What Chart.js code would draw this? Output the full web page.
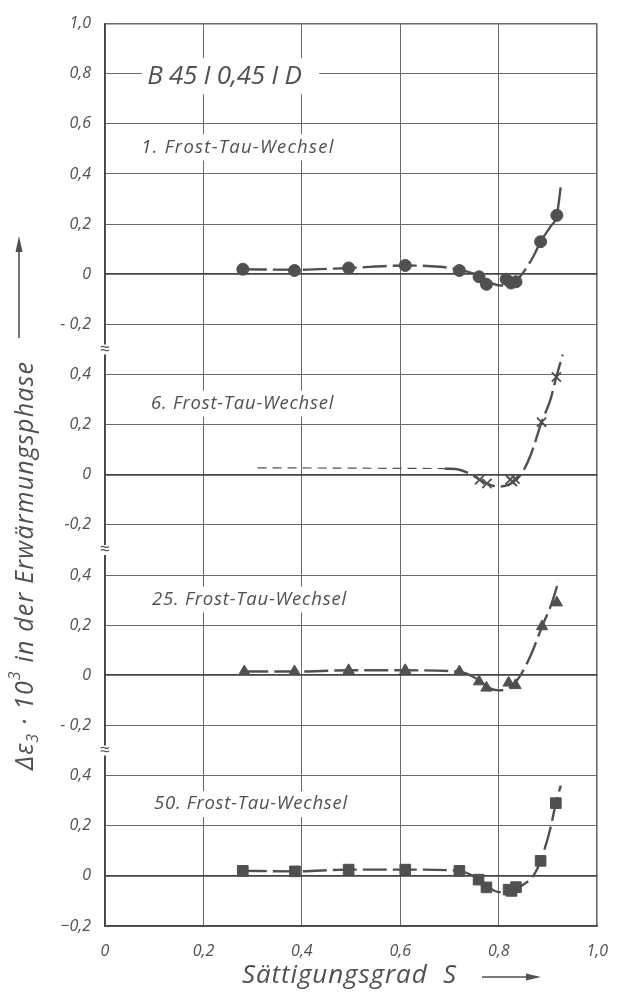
<!DOCTYPE html>
<html>
<head>
<meta charset="utf-8">
<title>B 45 I 0,45 I D</title>
<script src="https://cdn.jsdelivr.net/npm/chart.js@4.4.1/dist/chart.umd.min.js"></script>
<style>
  html, body { margin: 0; padding: 0; background: #fff; }
  #wrap { width: 624px; height: 992px; }
</style>
</head>
<body>
<div id="wrap"><canvas id="chart" width="624" height="992"></canvas></div>
<script>
// tick labels of the stacked y axis (bottom to top, one per grid step of 0.2)
const xTickLabels = ['0', '0,2', '0,4', '0,6', '0,8', '1,0'];
const yTickLabels = ['−0,2', '0', '0,2', '0,4', '- 0,2', '0', '0,2', '0,4', '-0,2', '0', '0,2', '0,4',
  '- 0,2', '0', '0,2', '0,4', '0,6', '0,8', '1,0'];
const panelNames = ['1. Frost-Tau-Wechsel', '6. Frost-Tau-Wechsel', '25. Frost-Tau-Wechsel', '50. Frost-Tau-Wechsel'];
const panelZero = [13, 9, 5, 1];

// measured points: Saettigungsgrad S and delta eps3 * 10^3
const cycle1S = [0.28, 0.385, 0.495, 0.61, 0.72, 0.76, 0.775, 0.815, 0.825, 0.835, 0.885, 0.918];
const cycle1D = [0.02, 0.015, 0.025, 0.035, 0.015, -0.01, -0.04, -0.02, -0.035, -0.03, 0.13, 0.235];
const cycle6S = [0.761, 0.776, 0.823, 0.828, 0.833, 0.887, 0.917];
const cycle6D = [-0.02, -0.035, -0.02, -0.027, -0.017, 0.21, 0.39];
const cycle25S = [0.283, 0.385, 0.495, 0.61, 0.72, 0.76, 0.775, 0.82, 0.834, 0.888, 0.918];
const cycle25D = [0.015, 0.015, 0.02, 0.02, 0.015, -0.025, -0.05, -0.03, -0.04, 0.195, 0.29];
const cycle50S = [0.28, 0.386, 0.495, 0.61, 0.72, 0.759, 0.775, 0.82, 0.826, 0.835, 0.885, 0.916];
const cycle50D = [0.02, 0.018, 0.025, 0.025, 0.02, -0.015, -0.046, -0.055, -0.06, -0.045, 0.06, 0.29];

// hand drawn fit curves
const curve1S = [0.28, 0.385, 0.495, 0.61, 0.68, 0.72, 0.76, 0.785, 0.805, 0.83, 0.847, 0.87, 0.885, 0.905, 0.918, 0.926];
const curve1D = [0.02, 0.018, 0.025, 0.035, 0.03, 0.018, -0.005, -0.035, -0.045, -0.035, 0, 0.07, 0.13, 0.19, 0.235, 0.35];
const curve6aS = [0.31, 0.69];
const curve6aD = [0.028, 0.025];
const curve6S = [0.69, 0.72, 0.745, 0.77, 0.80, 0.825, 0.845, 0.865, 0.887, 0.905, 0.917, 0.93];
const curve6D = [0.025, 0.02, 0.0, -0.03, -0.047, -0.035, 0.0, 0.08, 0.21, 0.3, 0.39, 0.48];
const curve25S = [0.283, 0.385, 0.495, 0.61, 0.72, 0.76, 0.78, 0.80, 0.825, 0.844, 0.865, 0.888, 0.908, 0.922];
const curve25D = [0.015, 0.015, 0.02, 0.02, 0.015, -0.02, -0.05, -0.06, -0.045, 0, 0.08, 0.195, 0.29, 0.38];
const curve50S = [0.28, 0.386, 0.495, 0.61, 0.72, 0.76, 0.78, 0.80, 0.82, 0.85, 0.87, 0.885, 0.905, 0.916, 0.926];
const curve50D = [0.02, 0.018, 0.025, 0.025, 0.02, -0.015, -0.045, -0.065, -0.062, -0.035, 0, 0.06, 0.19, 0.29, 0.36];

const ink = '#505050';
const font = "'Open Sans', 'Noto Sans', sans-serif";

function toPoints(sArr, dArr, panel) {
  return sArr.map((s, i) => ({ x: s, y: panelZero[panel] + dArr[i] / 0.2 }));
}

function curve(sArr, dArr, panel, thin) {
  return {
    data: toPoints(sArr, dArr, panel),
    showLine: true,
    borderColor: ink,
    borderWidth: thin ? 1.2 : 2.4,
    borderDash: thin ? [9, 6] : [24, 6],
    cubicInterpolationMode: 'monotone',
    pointRadius: 0,
    order: 2
  };
}

function marks(sArr, dArr, panel, style, radius) {
  return {
    data: toPoints(sArr, dArr, panel),
    showLine: false,
    pointStyle: style,
    pointRadius: radius,
    pointBackgroundColor: ink,
    pointBorderColor: ink,
    pointBorderWidth: style === 'crossRot' ? 1.8 : 1,
    order: 1
  };
}

function spacedText(ctx, text, left, right, midY) {
  ctx.letterSpacing = '0px';
  const natural = ctx.measureText(text).width;
  const gap = (right - left - natural) / (text.length - 1);
  ctx.letterSpacing = gap + 'px';
  ctx.textAlign = 'left';
  ctx.textBaseline = 'middle';
  ctx.fillText(text, left, midY);
  ctx.letterSpacing = '0px';
}

const labels = [
  { text: 'B 45 I 0,45 I D', s0: 0.0857, s1: 0.4, v: 16.95, size: 26, box: [0.075, 0.435] },
  { text: panelNames[0], s0: 0.0737, s1: 0.464, v: 15.53, size: 18.5 },
  { text: panelNames[1], s0: 0.0936, s1: 0.464, v: 10.42, size: 18.5 },
  { text: panelNames[2], s0: 0.0956, s1: 0.49, v: 6.51, size: 18.5 },
  { text: panelNames[3], s0: 0.0996, s1: 0.492, v: 2.43, size: 18.5 }
];

const paperText = {
  id: 'paperText',
  beforeDatasetsDraw(chart) {
    const { ctx, scales: { x, y } } = chart;
    ctx.save();
    labels.forEach(l => {
      const left = x.getPixelForValue(l.s0);
      const right = x.getPixelForValue(l.s1);
      const mid = y.getPixelForValue(l.v);
      const bl = l.box ? x.getPixelForValue(l.box[0]) : left - 4;
      const br = l.box ? x.getPixelForValue(l.box[1]) : right + 6;
      const h = l.size * 0.7;
      ctx.fillStyle = '#fff';
      ctx.fillRect(bl, mid - h, br - bl, 2 * h);
      ctx.fillStyle = ink;
      ctx.font = 'italic 400 ' + l.size + 'px ' + font;
      spacedText(ctx, l.text, left, right, mid);
    });

    // break marks on the left axis
    [11.5, 7.5, 3.5].forEach(v => {
      const py = y.getPixelForValue(v);
      ctx.fillStyle = '#fff';
      ctx.fillRect(x.left - 4, py - 5, 8, 10);
      ctx.fillStyle = ink;
      ctx.font = '18px ' + font;
      ctx.textAlign = 'center';
      ctx.textBaseline = 'middle';
      ctx.fillText('≈', x.left, py);
    });
    ctx.restore();
  },
  afterDraw(chart) {
    const { ctx } = chart;
    ctx.save();
    ctx.fillStyle = ink;
    ctx.strokeStyle = ink;

    // x title with arrow
    ctx.font = 'italic 400 26px ' + font;
    spacedText(ctx, 'Sättigungsgrad  S', 242, 456, 976);
    ctx.lineWidth = 1.6;
    ctx.beginPath();
    ctx.moveTo(482, 977);
    ctx.lineTo(528, 977);
    ctx.stroke();
    ctx.beginPath();
    ctx.moveTo(541, 977);
    ctx.lineTo(526, 973.5);
    ctx.lineTo(526, 980.5);
    ctx.closePath();
    ctx.fill();

    // y title, rotated, with sub- and superscript
    ctx.translate(26, 566);
    ctx.rotate(-Math.PI / 2);
    const size = 25;
    const parts = [
      ['Δε', 1, 0], ['3', 0.62, 0.32], [' · 10', 1, 0], ['3', 0.62, -0.42], [' in der Erwärmungsphase', 1, 0]
    ];
    let natural = 0, count = 0;
    parts.forEach(p => {
      ctx.font = 'italic 400 ' + (size * p[1]) + 'px ' + font;
      natural += ctx.measureText(p[0]).width;
      count += p[0].length;
    });
    const gap = (408 - natural) / (count - 1);
    ctx.letterSpacing = gap + 'px';
    ctx.textBaseline = 'middle';
    ctx.textAlign = 'left';
    let cx = -204;
    parts.forEach(p => {
      ctx.font = 'italic 400 ' + (size * p[1]) + 'px ' + font;
      ctx.fillText(p[0], cx, p[2] * size);
      cx += ctx.measureText(p[0]).width;
    });
    ctx.restore();

    // y arrow
    ctx.save();
    ctx.fillStyle = ink;
    ctx.strokeStyle = ink;
    ctx.lineWidth = 1.6;
    ctx.beginPath();
    ctx.moveTo(19, 338);
    ctx.lineTo(19, 250);
    ctx.stroke();
    ctx.beginPath();
    ctx.moveTo(19, 236);
    ctx.lineTo(15.5, 252);
    ctx.lineTo(22.5, 252);
    ctx.closePath();
    ctx.fill();
    ctx.restore();
  }
};

const tickFont = { family: font, style: 'italic', weight: 400, size: 16 };

new Chart(document.getElementById('chart'), {
  type: 'scatter',
  data: {
    datasets: [
      curve(curve1S, curve1D, 0),
      curve(curve6aS, curve6aD, 1, true),
      curve(curve6S, curve6D, 1),
      curve(curve25S, curve25D, 2),
      curve(curve50S, curve50D, 3),
      marks(cycle1S, cycle1D, 0, 'circle', 6),
      marks(cycle6S, cycle6D, 1, 'crossRot', 6.5),
      marks(cycle25S, cycle25D, 2, 'triangle', 6.5),
      marks(cycle50S, cycle50D, 3, 'rect', 7.5)
    ]
  },
  options: {
    responsive: false,
    animation: false,
    devicePixelRatio: 1,
    layout: { padding: { top: 16, right: 17, left: 0, bottom: 0 } },
    plugins: { legend: { display: false }, tooltip: { enabled: false } },
    scales: {
      x: {
        type: 'linear',
        min: 0,
        max: 1,
        afterFit: s => { s.height = 66; },
        ticks: {
          stepSize: 0.2,
          autoSkip: false,
          maxRotation: 0,
          padding: 16,
          color: ink,
          font: tickFont,
          callback: v => xTickLabels[Math.round(v * 5)]
        },
        grid: {
          drawTicks: false,
          color: '#6a6a6a',
          lineWidth: c => (c.index === 5 ? 1.6 : 1)
        },
        border: { color: '#444', width: 1.6 }
      },
      y: {
        min: 0,
        max: 18,
        afterFit: s => { s.width = 105; },
        ticks: {
          stepSize: 1,
          autoSkip: false,
          padding: 14,
          color: ink,
          font: tickFont,
          callback: v => yTickLabels[v]
        },
        grid: {
          drawTicks: false,
          color: c => (panelZero.includes(c.tick.value) ? '#444' : '#6a6a6a'),
          lineWidth: c => (panelZero.includes(c.tick.value) ? 1.8 : (c.tick.value === 18 ? 1.6 : 1))
        },
        border: { color: '#444', width: 1.6 }
      }
    }
  },
  plugins: [paperText]
});
</script>
</body>
</html>
